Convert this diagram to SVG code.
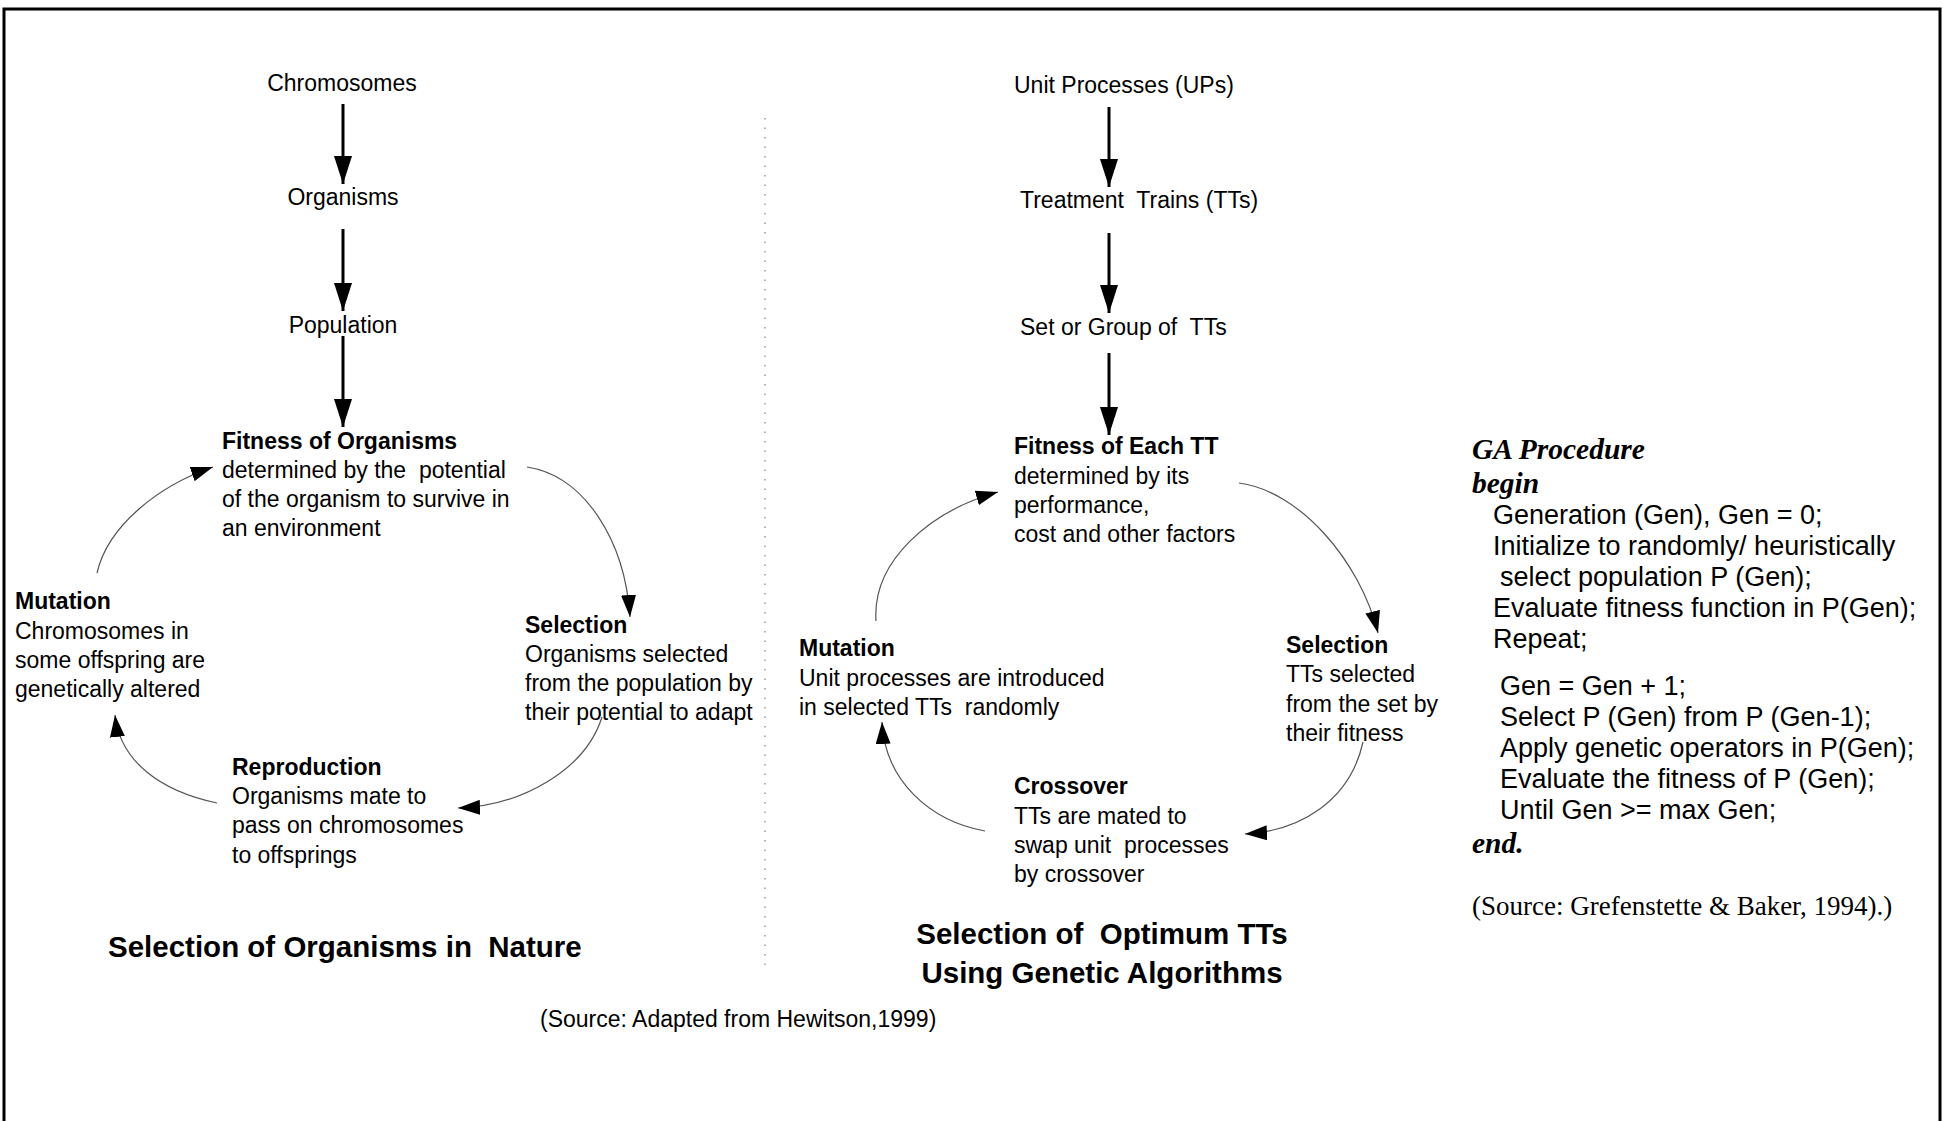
<svg xmlns="http://www.w3.org/2000/svg" width="1943" height="1121" viewBox="0 0 1943 1121">
<style>
.t{font-family:"Liberation Sans",Arial,sans-serif;font-size:23px;fill:#000}
.b{font-weight:bold}
.title{font-family:"Liberation Sans",Arial,sans-serif;font-size:29.5px;font-weight:bold;fill:#000}
.ga{font-family:"Liberation Sans",Arial,sans-serif;font-size:27px;fill:#000}
.tm{font-family:"Liberation Serif","Times New Roman",serif;fill:#000}
.straight{stroke:#000;stroke-width:3;fill:none}
.loop{stroke:#555;stroke-width:1.2;fill:none}
</style>
<defs>
<marker id="big" markerUnits="userSpaceOnUse" markerWidth="28" markerHeight="18" refX="28" refY="9" orient="auto" viewBox="0 0 28 18">
<path d="M0,0 L28,9 L0,18 Z" fill="#000"/>
</marker>
<marker id="small" markerUnits="userSpaceOnUse" markerWidth="22" markerHeight="15" refX="22" refY="7.5" orient="auto" viewBox="0 0 22 15">
<path d="M0,0 L22,7.5 L0,15 Z" fill="#000"/>
</marker>
</defs>
<rect width="1943" height="1121" fill="#fff"/>
<path d="M4,1121 V9 H1940 V1121" fill="none" stroke="#000" stroke-width="3"/>
<line x1="765" y1="118" x2="765" y2="967" stroke="#999" stroke-width="1.5" stroke-dasharray="1.5 8"/>

<g id="connectors">
<line class="straight" x1="343" y1="104" x2="343" y2="184" marker-end="url(#big)"/>
<line class="straight" x1="343" y1="229" x2="343" y2="311" marker-end="url(#big)"/>
<line class="straight" x1="343" y1="336" x2="343" y2="427" marker-end="url(#big)"/>
<path class="loop" d="M527,467 C585,476 625,541 630,617" marker-end="url(#small)"/>
<path class="loop" d="M602,717 C585,771 520,806 458,808" marker-end="url(#small)"/>
<path class="loop" d="M217,803 C160,791 120,761 115,715" marker-end="url(#small)"/>
<path class="loop" d="M97,573 C108,525 160,485 213,467" marker-end="url(#small)"/>

<line class="straight" x1="1109" y1="107" x2="1109" y2="187" marker-end="url(#big)"/>
<line class="straight" x1="1109" y1="233" x2="1109" y2="313" marker-end="url(#big)"/>
<line class="straight" x1="1109" y1="353" x2="1109" y2="435" marker-end="url(#big)"/>
<path class="loop" d="M1239,483 C1300,491 1360,561 1378,633" marker-end="url(#small)"/>
<path class="loop" d="M1363,742 C1350,801 1300,831 1245,834" marker-end="url(#small)"/>
<path class="loop" d="M985,831 C930,821 885,781 882,722" marker-end="url(#small)"/>
<path class="loop" d="M876,621 C872,561 930,511 998,492" marker-end="url(#small)"/>
</g>

<g transform="translate(0,1.5)">
<g id="chromosomes"><text class="t" x="342" y="89" text-anchor="middle">Chromosomes</text></g>
<g id="organisms"><text class="t" x="343" y="203" text-anchor="middle">Organisms</text></g>
<g id="population"><text class="t" x="343" y="331" text-anchor="middle">Population</text></g>
<g id="fitness-organisms">
<text class="t b" x="222" y="447">Fitness of Organisms</text>
<text class="t" x="222" y="476" xml:space="preserve">determined by the  potential</text>
<text class="t" x="222" y="505">of the organism to survive in</text>
<text class="t" x="222" y="534">an environment</text>
</g>
<g id="selection-nature">
<text class="t b" x="525" y="631">Selection</text>
<text class="t" x="525" y="660">Organisms selected</text>
<text class="t" x="525" y="689">from the population by</text>
<text class="t" x="525" y="718">their potential to adapt</text>
</g>
<g id="reproduction">
<text class="t b" x="232" y="773">Reproduction</text>
<text class="t" x="232" y="802">Organisms mate to</text>
<text class="t" x="232" y="831">pass on chromosomes</text>
<text class="t" x="232" y="861">to offsprings</text>
</g>
<g id="mutation-nature">
<text class="t b" x="15" y="607">Mutation</text>
<text class="t" x="15" y="637">Chromosomes in</text>
<text class="t" x="15" y="666">some offspring are</text>
<text class="t" x="15" y="695">genetically altered</text>
</g>
<g id="title-nature"><text class="title" x="108" y="955" xml:space="preserve">Selection of Organisms in  Nature</text></g>
<g id="source-hewitson"><text class="t" x="540" y="1025">(Source: Adapted from Hewitson,1999)</text></g>

<g id="unit-processes"><text class="t" x="1014" y="91">Unit Processes (UPs)</text></g>
<g id="treatment-trains"><text class="t" x="1020" y="206" xml:space="preserve">Treatment  Trains (TTs)</text></g>
<g id="set-group"><text class="t" x="1020" y="333" xml:space="preserve">Set or Group of  TTs</text></g>
<g id="fitness-tt">
<text class="t b" x="1014" y="452">Fitness of Each TT</text>
<text class="t" x="1014" y="482">determined by its</text>
<text class="t" x="1014" y="511">performance,</text>
<text class="t" x="1014" y="540">cost and other factors</text>
</g>
<g id="selection-tt">
<text class="t b" x="1286" y="651">Selection</text>
<text class="t" x="1286" y="680">TTs selected</text>
<text class="t" x="1286" y="710">from the set by</text>
<text class="t" x="1286" y="739">their fitness</text>
</g>
<g id="crossover">
<text class="t b" x="1014" y="792">Crossover</text>
<text class="t" x="1014" y="822">TTs are mated to</text>
<text class="t" x="1014" y="851" xml:space="preserve">swap unit  processes</text>
<text class="t" x="1014" y="880">by crossover</text>
</g>
<g id="mutation-tt">
<text class="t b" x="799" y="654">Mutation</text>
<text class="t" x="799" y="684">Unit processes are introduced</text>
<text class="t" x="799" y="713" xml:space="preserve">in selected TTs  randomly</text>
</g>
<g id="title-ga">
<text class="title" x="1102" y="942" text-anchor="middle" xml:space="preserve">Selection of  Optimum TTs</text>
<text class="title" x="1102" y="981" text-anchor="middle">Using Genetic Algorithms</text>
</g>

<g id="ga-procedure">
<text class="tm" x="1472" y="457" font-size="29.5" font-weight="bold" font-style="italic">GA Procedure</text>
<text class="tm" x="1472" y="491" font-size="29.5" font-weight="bold" font-style="italic">begin</text>
<text class="ga" x="1493" y="522">Generation (Gen), Gen = 0;</text>
<text class="ga" x="1493" y="553">Initialize to randomly/ heuristically</text>
<text class="ga" x="1500" y="584">select population P (Gen);</text>
<text class="ga" x="1493" y="615">Evaluate fitness function in P(Gen);</text>
<text class="ga" x="1493" y="646">Repeat;</text>
<text class="ga" x="1500" y="693">Gen = Gen + 1;</text>
<text class="ga" x="1500" y="724">Select P (Gen) from P (Gen-1);</text>
<text class="ga" x="1500" y="755">Apply genetic operators in P(Gen);</text>
<text class="ga" x="1500" y="786">Evaluate the fitness of P (Gen);</text>
<text class="ga" x="1500" y="817">Until Gen &gt;= max Gen;</text>
<text class="tm" x="1472" y="851" font-size="29.5" font-weight="bold" font-style="italic">end.</text>
<text class="tm" x="1472" y="913" font-size="27">(Source: Grefenstette &amp; Baker, 1994).)</text>
</g>
</g>
</svg>
